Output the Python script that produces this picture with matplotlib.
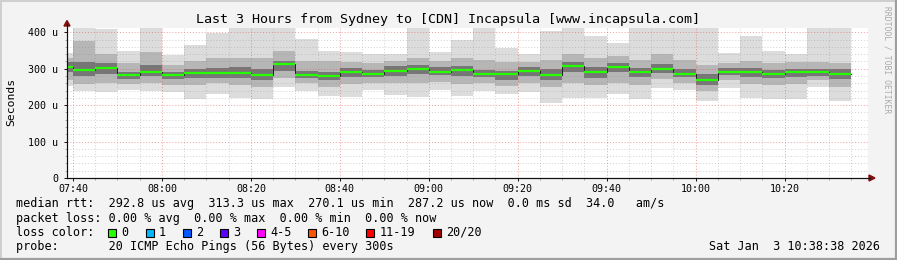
import matplotlib
matplotlib.use('Agg')
import matplotlib.pyplot as plt
from matplotlib.lines import Line2D
from matplotlib.patches import Rectangle, Polygon

plt.rcParams['font.family'] = ['DejaVu Sans Mono']

W, H = 897, 260

title = "Last 3 Hours from Sydney to [CDN] Incapsula [www.incapsula.com]"

# 5 minute bins, start in minutes after 07:40
bin_start = list(range(-5, 175, 5))
median = [306, 297, 303, 282, 291, 282, 289, 289, 289, 284, 313, 284,
          279, 292, 287, 295, 300, 292, 297, 287, 287, 295, 284, 307,
          290, 306, 292, 300, 287, 270, 292, 290, 287, 290, 290, 287]
# smoke: extreme pings, middle band, inner band (us)
ping_lo = [253, 238, 235, 242, 240, 235, 217, 232, 221, 216, 249, 238,
           226, 223, 242, 228, 223, 242, 226, 240, 231, 237, 205, 221,
           221, 232, 217, 247, 242, 211, 247, 221, 216, 216, 249, 212]
ping_hi = [342, 450, 408, 349, 450, 337, 365, 398, 450, 450, 450, 383,
           350, 346, 340, 341, 450, 346, 378, 450, 358, 340, 405, 450,
           390, 372, 450, 450, 450, 450, 344, 390, 349, 340, 450, 450]
mid_lo = [270, 259, 262, 258, 262, 255, 255, 262, 255, 250, 275, 262,
          250, 258, 262, 260, 262, 265, 258, 260, 252, 262, 250, 262,
          255, 262, 255, 272, 262, 240, 268, 258, 255, 258, 268, 250]
mid_hi = [330, 376, 340, 315, 345, 310, 320, 330, 330, 330, 350, 320,
          320, 318, 315, 322, 330, 320, 330, 325, 318, 318, 325, 340,
          330, 335, 325, 340, 325, 310, 315, 320, 315, 318, 318, 315]
core_lo = [290, 280, 285, 272, 280, 272, 275, 276, 275, 268, 295, 276,
           268, 278, 278, 280, 285, 282, 280, 277, 270, 280, 270, 290,
           275, 290, 278, 288, 278, 255, 282, 278, 275, 278, 280, 272]
core_hi = [318, 318, 315, 292, 310, 292, 300, 302, 305, 300, 322, 295,
           292, 302, 296, 308, 310, 305, 308, 298, 295, 305, 300, 318,
           305, 315, 303, 312, 300, 285, 302, 302, 298, 300, 300, 300]

tick_min = [0, 20, 40, 60, 80, 100, 120, 140, 160]
tick_lbl = ['07:40', '08:00', '08:20', '08:40', '09:00', '09:20', '09:40', '10:00', '10:20']
y_ticks = [0, 100, 200, 300, 400]
y_lbl = ['0', '100 u', '200 u', '300 u', '400 u']

loss_labels = ['0', '1', '2', '3', '4-5', '6-10', '11-19', '20/20']
loss_colors = ['#26ff00', '#00b8ff', '#0059ff', '#5e00ff', '#ff00ff', '#ff5500', '#ff0000', '#a00000']

rtt_line = "median rtt:  292.8 us avg  313.3 us max  270.1 us min  287.2 us now  0.0 ms sd  34.0   am/s"
loss_line = "packet loss: 0.00 % avg  0.00 % max  0.00 % min  0.00 % now"
probe_line = "probe:       20 ICMP Echo Pings (56 Bytes) every 300s"
stamp = "Sat Jan  3 10:38:38 2026"


def fx(x):
    return x / W


def fy(y):
    return 1 - y / H


fig = plt.figure(figsize=(W / 100, H / 100), dpi=100, facecolor='#f3f3f3')
ax = fig.add_axes([fx(67), fy(178), fx(867.5) - fx(67), fy(28) - fy(178)])
ax.set_facecolor('white')

# smoke layers
for lo, hi, col in [(ping_lo, ping_hi, '#dcdcdc'),
                    (mid_lo, mid_hi, '#b6b6b6'),
                    (core_lo, core_hi, '#767676')]:
    ax.bar(bin_start, [h - l for l, h in zip(lo, hi)], bottom=lo, width=5,
           align='edge', color=col, linewidth=0, zorder=1)

ends = [b + 5 for b in bin_start]
ax.step(bin_start + [ends[-1]], median + [median[-1]], where='post',
        color='#202020', lw=0.7, zorder=3)
ax.hlines(median, bin_start, ends, colors='#26ff00', lw=1.6, zorder=4)

ax.set_xlim(-1.35, 178.65)
ax.set_ylim(0, 412)
ax.set_xticks(tick_min)
ax.set_xticklabels(tick_lbl)
ax.set_xticks([m for m in range(0, 180, 5) if m % 20], minor=True)
ax.set_yticks(y_ticks)
ax.set_yticklabels(y_lbl)
ax.set_yticks([v for v in range(20, 412, 20) if v % 100], minor=True)

ax.set_axisbelow(False)
ax.grid(which='major', color='#de5050', alpha=0.55, linestyle=(0, (1, 2)), lw=0.7)
ax.grid(which='minor', color='#8f8f8f', alpha=0.4, linestyle=(0, (1, 2)), lw=0.7)
ax.tick_params(which='major', length=2.5, width=0.7, color='#101010',
               labelsize=7.2, pad=2)
ax.tick_params(which='minor', length=1.5, width=0.6, color='#999999')
ax.tick_params(axis='y', which='major', pad=4)
for s in ['top', 'right']:
    ax.spines[s].set_visible(False)
for s in ['left', 'bottom']:
    ax.spines[s].set_color('#101010')
    ax.spines[s].set_linewidth(0.8)

# axis extensions + arrows
arrow_col = '#7f1010'
fig.add_artist(Line2D([fx(67), fx(67)], [fy(178), fy(24)], color='#101010', lw=0.8))
fig.add_artist(Line2D([fx(67), fx(870)], [fy(178), fy(178)], color='#101010', lw=0.8))
fig.add_artist(Polygon([(fx(64), fy(26)), (fx(70), fy(26)), (fx(67), fy(20.5))],
                       closed=True, color=arrow_col, transform=fig.transFigure))
fig.add_artist(Polygon([(fx(869), fy(175)), (fx(869), fy(181)), (fx(875), fy(178))],
                       closed=True, color=arrow_col, transform=fig.transFigure))

# frame
fig.add_artist(Line2D([0, 1], [fy(0.7), fy(0.7)], color='#cfcfcf', lw=1.4))
fig.add_artist(Line2D([fx(0.7), fx(0.7)], [0, 1], color='#cfcfcf', lw=1.4))
fig.add_artist(Line2D([0, 1], [fy(259), fy(259)], color='#9e9e9e', lw=1.6))
fig.add_artist(Line2D([fx(896), fx(896)], [0, 1], color='#9e9e9e', lw=1.6))

fig.text(fx(448), fy(19), title, ha='center', va='center', fontsize=9.6)
fig.text(fx(11), fy(102), 'Seconds', rotation=90, ha='center', va='center', fontsize=8.2)
fig.text(fx(887), fy(60), 'RRDTOOL / TOBI OETIKER', rotation=-90, ha='center',
         va='center', fontsize=5.8, color='#aaaaaa')

fig.text(fx(16), fy(204), rtt_line, va='center', fontsize=8.5)
fig.text(fx(16), fy(218.3), loss_line, va='center', fontsize=8.5)
fig.text(fx(16), fy(232.3), 'loss color:', va='center', fontsize=8.5)
fig.text(fx(16), fy(246.7), probe_line, va='center', fontsize=8.5)
fig.text(fx(880), fy(246.7), stamp, ha='right', va='center', fontsize=8.5)

box_x = [108, 145.5, 183, 220, 257, 308, 366, 433]
for bx, lab, col in zip(box_x, loss_labels, loss_colors):
    fig.add_artist(Rectangle((fx(bx), fy(236.5)), 8 / W, 8 / H, facecolor=col,
                             edgecolor='black', lw=0.8, transform=fig.transFigure))
    fig.text(fx(bx + 13.5), fy(232.3), lab, va='center', fontsize=8.5)

fig.savefig('out.png', dpi=100, facecolor=fig.get_facecolor())
